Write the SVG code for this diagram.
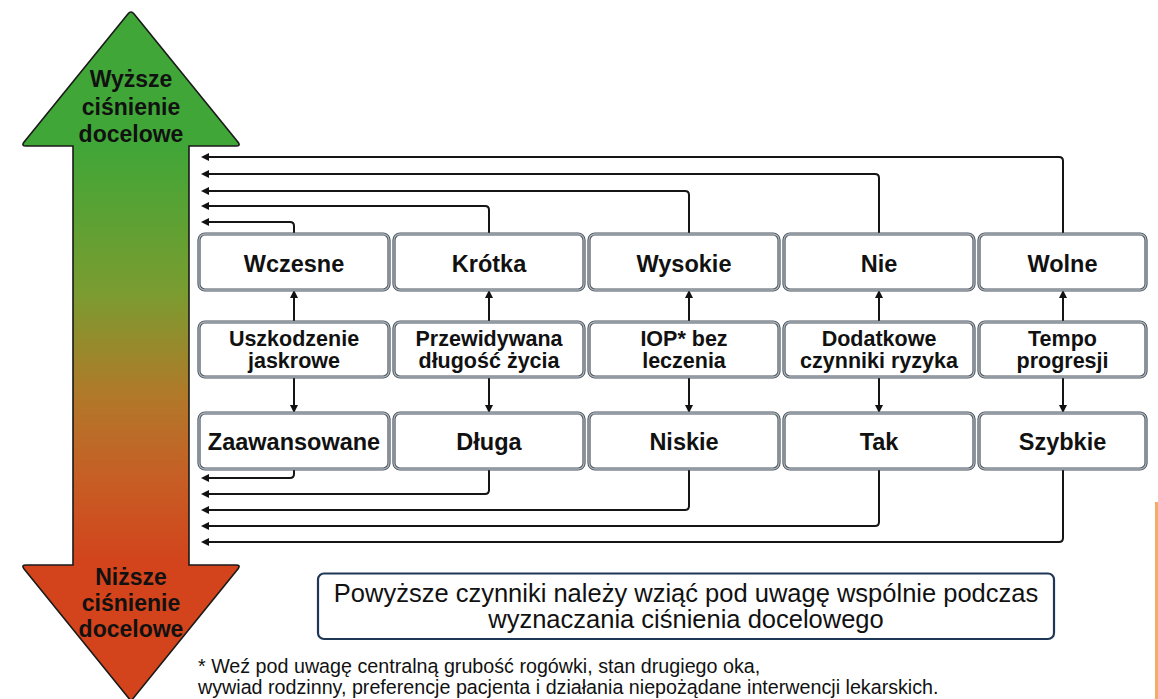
<svg xmlns="http://www.w3.org/2000/svg" width="1158" height="699" viewBox="0 0 1158 699">
<defs>
<linearGradient id="grad" gradientUnits="userSpaceOnUse" x1="0" y1="146" x2="0" y2="565">
<stop offset="0" stop-color="#40a637"/>
<stop offset="0.35" stop-color="#7a9c30"/>
<stop offset="0.6" stop-color="#b2782a"/>
<stop offset="0.8" stop-color="#c75d25"/>
<stop offset="1" stop-color="#d3431c"/>
</linearGradient>
<marker id="ah" viewBox="0 0 10 10" refX="5" refY="5" markerWidth="8" markerHeight="9" markerUnits="userSpaceOnUse" orient="auto">
<path d="M0,0 L10,5 L0,10 z" fill="#111"/>
</marker>
</defs>
<style>
.bo{fill:#fff;stroke:#4a535c;stroke-width:3.2}
.bi{fill:none;stroke:#aab2ba;stroke-width:1.3}
.t{font-family:"Liberation Sans",Arial,sans-serif;font-weight:bold;fill:#111;text-anchor:middle}
.big{font-size:23.5px}
.mid{font-size:21.5px}
.al{font-family:"Liberation Sans",Arial,sans-serif;font-weight:bold;font-size:23px;fill:#111;text-anchor:middle}
.c{fill:none;stroke:#151515;stroke-width:2;marker-end:url(#ah)}
.n{font-family:"Liberation Sans",Arial,sans-serif;fill:#111}
</style>

<g id="scale-arrow">
<path d="M127.9,13.9 Q131,10 134.1,13.9 L237.9,142.1 Q241,146 236,146 L189,146 L189,565 L236,565 Q241,565 237.9,568.9 L131,701 L24.1,568.9 Q21,565 26,565 L73,565 L73,146 L26,146 Q21,146 24.1,142.1 Z" fill="url(#grad)" stroke="#1a1a1a" stroke-width="1.6"/>
<text class="al" x="131" y="87">Wyższe</text>
<text class="al" x="131" y="115">ciśnienie</text>
<text class="al" x="131" y="142">docelowe</text>
<text class="al" x="131" y="585">Niższe</text>
<text class="al" x="131" y="611">ciśnienie</text>
<text class="al" x="131" y="637">docelowe</text>
</g>

<g id="connectors">
<path class="c" d="M294,322 V294"/>
<path class="c" d="M294,377 V409"/>
<path class="c" d="M489,322 V294"/>
<path class="c" d="M489,377 V409"/>
<path class="c" d="M689,322 V294"/>
<path class="c" d="M689,377 V409"/>
<path class="c" d="M879,322 V294"/>
<path class="c" d="M879,377 V409"/>
<path class="c" d="M1063,322 V294"/>
<path class="c" d="M1063,377 V409"/>

<path class="c" d="M294,234 V226 Q294,222 290,222 H205"/>
<path class="c" d="M489,234 V210 Q489,206 485,206 H205"/>
<path class="c" d="M689,234 V195 Q689,191 685,191 H205"/>
<path class="c" d="M879,234 V178 Q879,174 875,174 H205"/>
<path class="c" d="M1063,234 V161 Q1063,157 1059,157 H205"/>

<path class="c" d="M294,469 V474 Q294,478 290,478 H205"/>
<path class="c" d="M489,469 V490 Q489,494 485,494 H205"/>
<path class="c" d="M689,469 V506 Q689,510 685,510 H205"/>
<path class="c" d="M879,469 V522 Q879,526 875,526 H205"/>
<path class="c" d="M1063,469 V538 Q1063,542 1059,542 H205"/>
</g>

<g id="wczesne"><rect class="bo" x="199" y="234" width="190" height="56" rx="6"/><rect class="bi" x="199" y="234" width="190" height="56" rx="6"/><text class="t big" x="294" y="271.5">Wczesne</text></g>
<g id="krotka"><rect class="bo" x="394" y="234" width="190" height="56" rx="6"/><rect class="bi" x="394" y="234" width="190" height="56" rx="6"/><text class="t big" x="489" y="271.5">Krótka</text></g>
<g id="wysokie"><rect class="bo" x="589" y="234" width="190" height="56" rx="6"/><rect class="bi" x="589" y="234" width="190" height="56" rx="6"/><text class="t big" x="684" y="271.5">Wysokie</text></g>
<g id="nie"><rect class="bo" x="784" y="234" width="190" height="56" rx="6"/><rect class="bi" x="784" y="234" width="190" height="56" rx="6"/><text class="t big" x="879" y="271.5">Nie</text></g>
<g id="wolne"><rect class="bo" x="979" y="234" width="167" height="56" rx="6"/><rect class="bi" x="979" y="234" width="167" height="56" rx="6"/><text class="t big" x="1062.5" y="271.5">Wolne</text></g>

<g id="uszkodzenie"><rect class="bo" x="199" y="322" width="190" height="55" rx="6"/><rect class="bi" x="199" y="322" width="190" height="55" rx="6"/><text class="t mid" x="294" y="346">Uszkodzenie</text><text class="t mid" x="294" y="368">jaskrowe</text></g>
<g id="dlugosc"><rect class="bo" x="394" y="322" width="190" height="55" rx="6"/><rect class="bi" x="394" y="322" width="190" height="55" rx="6"/><text class="t mid" x="489" y="346">Przewidywana</text><text class="t mid" x="489" y="368">długość życia</text></g>
<g id="iop"><rect class="bo" x="589" y="322" width="190" height="55" rx="6"/><rect class="bi" x="589" y="322" width="190" height="55" rx="6"/><text class="t mid" x="684" y="346">IOP* bez</text><text class="t mid" x="684" y="368">leczenia</text></g>
<g id="czynniki"><rect class="bo" x="784" y="322" width="190" height="55" rx="6"/><rect class="bi" x="784" y="322" width="190" height="55" rx="6"/><text class="t mid" x="879" y="346">Dodatkowe</text><text class="t mid" x="879" y="368">czynniki ryzyka</text></g>
<g id="tempo"><rect class="bo" x="979" y="322" width="167" height="55" rx="6"/><rect class="bi" x="979" y="322" width="167" height="55" rx="6"/><text class="t mid" x="1062.5" y="346">Tempo</text><text class="t mid" x="1062.5" y="368">progresji</text></g>

<g id="zaawansowane"><rect class="bo" x="199" y="413" width="190" height="56" rx="6"/><rect class="bi" x="199" y="413" width="190" height="56" rx="6"/><text class="t big" x="294" y="450">Zaawansowane</text></g>
<g id="dluga"><rect class="bo" x="394" y="413" width="190" height="56" rx="6"/><rect class="bi" x="394" y="413" width="190" height="56" rx="6"/><text class="t big" x="489" y="450">Długa</text></g>
<g id="niskie"><rect class="bo" x="589" y="413" width="190" height="56" rx="6"/><rect class="bi" x="589" y="413" width="190" height="56" rx="6"/><text class="t big" x="684" y="450">Niskie</text></g>
<g id="tak"><rect class="bo" x="784" y="413" width="190" height="56" rx="6"/><rect class="bi" x="784" y="413" width="190" height="56" rx="6"/><text class="t big" x="879" y="450">Tak</text></g>
<g id="szybkie"><rect class="bo" x="979" y="413" width="167" height="56" rx="6"/><rect class="bi" x="979" y="413" width="167" height="56" rx="6"/><text class="t big" x="1062.5" y="450">Szybkie</text></g>

<g id="note">
<rect x="318" y="573.5" width="736" height="65.5" rx="6" fill="#fff" stroke="#1f3756" stroke-width="2.2"/>
<text class="n" x="686" y="602" font-size="25.5" text-anchor="middle">Powyższe czynniki należy wziąć pod uwagę wspólnie podczas</text>
<text class="n" x="686" y="628" font-size="25.5" text-anchor="middle">wyznaczania ciśnienia docelowego</text>
</g>

<g id="footnote">
<text class="n" x="198" y="673" font-size="19.7">* Weź pod uwagę centralną grubość rogówki, stan drugiego oka,</text>
<text class="n" x="198" y="694" font-size="19.7">wywiad rodzinny, preferencje pacjenta i działania niepożądane interwencji lekarskich.</text>
</g>

<rect x="1155" y="502" width="3" height="197" fill="#f6a96b"/>
</svg>
